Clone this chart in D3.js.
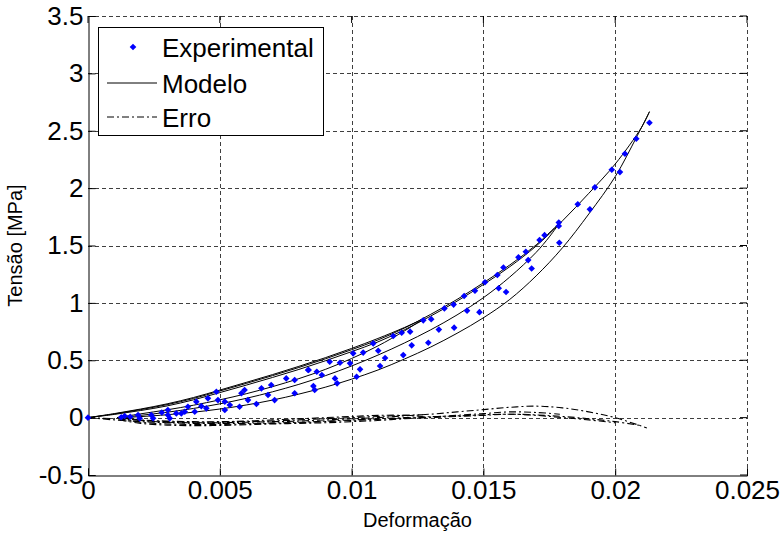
<!DOCTYPE html>
<html>
<head>
<meta charset="utf-8">
<script src="https://cdn.jsdelivr.net/npm/d3@7/dist/d3.min.js"></script>
<style>
body { margin: 0; background: #fff; }
svg { display: block; font-family: "Liberation Sans", Arial, sans-serif; }
</style>
</head>
<body>
<svg id="chart" width="783" height="535"></svg>
<script>
// DATA (strain, stress [MPa])
const xTicks = [0, 0.005, 0.01, 0.015, 0.02, 0.025];
const xTickLabels = ["0", "0.005", "0.01", "0.015", "0.02", "0.025"];
const yTicks = [-0.5, 0, 0.5, 1, 1.5, 2, 2.5, 3, 3.5];
const yTickLabels = ["-0.5", "0", "0.5", "1", "1.5", "2", "2.5", "3", "3.5"];
const legendLabels = ["Experimental", "Modelo", "Erro"];

const experimental = [
    [0, 0], [0.00126, 0.003], [0.00139, 0.014], [0.0016, 0.008], [0.0019, 0.023], [0.00196, -0.006],
    [0.0024, 0.023], [0.00247, -0.006], [0.0028, 0.045], [0.00303, 0.066], [0.00303, 0.023], [0.0031, -0.006],
    [0.00335, 0.037], [0.00354, 0.037], [0.00367, 0.051], [0.00379, 0.095], [0.00405, 0.051], [0.00411, 0.139],
    [0.0043, 0.1], [0.00449, 0.081], [0.00455, 0.168], [0.00487, 0.226], [0.00493, 0.153], [0.00519, 0.066],
    [0.00519, 0.139], [0.00538, 0.11], [0.00575, 0.095], [0.00582, 0.212], [0.00594, 0.241], [0.00607, 0.153],
    [0.00639, 0.119], [0.00658, 0.255], [0.00683, 0.197], [0.00695, 0.284], [0.00708, 0.153], [0.00752, 0.342],
    [0.00784, 0.328], [0.00784, 0.212], [0.00835, 0.415], [0.00837, 0.415], [0.00855, 0.275], [0.0086, 0.241],
    [0.00868, 0.4], [0.00887, 0.371], [0.00917, 0.487], [0.00937, 0.342], [0.00945, 0.299], [0.00956, 0.478],
    [0.00994, 0.473], [0.01006, 0.56], [0.01019, 0.356], [0.01032, 0.421], [0.01044, 0.567], [0.01082, 0.647],
    [0.01101, 0.583], [0.01108, 0.45], [0.01127, 0.52], [0.01158, 0.711], [0.0119, 0.74], [0.01196, 0.545],
    [0.01222, 0.749], [0.01228, 0.63], [0.01272, 0.848], [0.01291, 0.653], [0.01302, 0.858], [0.01331, 0.767],
    [0.01352, 0.952], [0.01387, 0.985], [0.01389, 0.784], [0.01427, 1.06], [0.01438, 0.932], [0.01468, 1.106],
    [0.01485, 0.919], [0.01506, 1.18], [0.01553, 1.243], [0.01558, 1.127], [0.01576, 1.308], [0.01586, 1.095],
    [0.01633, 1.397], [0.01661, 1.446], [0.0167, 1.373], [0.01683, 1.3], [0.01713, 1.548], [0.01732, 1.59],
    [0.01786, 1.7], [0.01786, 1.67], [0.01788, 1.524], [0.01858, 1.859], [0.01904, 1.815], [0.01923, 2.007],
    [0.01987, 2.16], [0.02018, 2.14], [0.02037, 2.3], [0.0208, 2.43], [0.0213, 2.57]
];

// model: loading / unloading branches of three cycles
const loadA = [[0, 0], [0.001, 0.035], [0.002, 0.075], [0.003, 0.12], [0.004, 0.175], [0.005, 0.24], [0.006, 0.307],
    [0.007, 0.375], [0.008, 0.447], [0.009, 0.522], [0.010, 0.603], [0.011, 0.69], [0.012, 0.785], [0.0127, 0.858]];
const unloadA = [[0.0127, 0.858], [0.012, 0.755], [0.011, 0.625], [0.010, 0.515], [0.009, 0.42], [0.008, 0.34],
    [0.007, 0.27], [0.006, 0.208], [0.005, 0.155], [0.004, 0.108], [0.003, 0.068], [0.002, 0.033], [0.0011, 0]];
const loadB = [[0, 0], [0.001, 0.032], [0.002, 0.07], [0.003, 0.113], [0.004, 0.167], [0.005, 0.232], [0.006, 0.298],
    [0.007, 0.366], [0.008, 0.437], [0.009, 0.512], [0.010, 0.592], [0.011, 0.677], [0.012, 0.78], [0.013, 0.9],
    [0.014, 1.03], [0.015, 1.175], [0.016, 1.33], [0.017, 1.505], [0.0179, 1.7]];
const unloadB = [[0.0179, 1.7], [0.0175, 1.575], [0.017, 1.44], [0.016, 1.225], [0.015, 1.045], [0.014, 0.895],
    [0.013, 0.765], [0.012, 0.65], [0.011, 0.545], [0.010, 0.45], [0.009, 0.365], [0.008, 0.29], [0.007, 0.225],
    [0.006, 0.168], [0.005, 0.12], [0.004, 0.08], [0.003, 0.047], [0.002, 0.02], [0.0012, 0]];
const loadC = [[0, 0], [0.001, 0.028], [0.002, 0.062], [0.003, 0.102], [0.004, 0.155], [0.005, 0.218], [0.006, 0.283],
    [0.007, 0.35], [0.008, 0.42], [0.009, 0.495], [0.010, 0.575], [0.011, 0.66], [0.012, 0.765], [0.013, 0.885],
    [0.014, 1.015], [0.015, 1.16], [0.016, 1.315], [0.017, 1.495], [0.018, 1.715], [0.019, 1.955], [0.020, 2.21],
    [0.021, 2.53], [0.0213, 2.666]];
const unloadC = [[0.0213, 2.666], [0.0208, 2.44], [0.020, 2.1], [0.019, 1.775], [0.018, 1.48], [0.017, 1.235],
    [0.016, 1.03], [0.015, 0.87], [0.014, 0.735], [0.013, 0.615], [0.012, 0.51], [0.011, 0.415], [0.010, 0.335],
    [0.009, 0.265], [0.008, 0.205], [0.007, 0.153], [0.006, 0.11], [0.005, 0.075], [0.004, 0.047], [0.003, 0.025],
    [0.002, 0.009], [0.0013, 0]];

// error branches (one per model branch)
const err1 = [[0.0013, 0], [0.002, -0.025], [0.003, -0.04], [0.004, -0.045], [0.005, -0.045], [0.006, -0.04],
    [0.007, -0.035], [0.008, -0.03], [0.009, -0.02], [0.010, -0.01], [0.011, 0], [0.012, 0.015], [0.013, 0.03],
    [0.014, 0.05], [0.015, 0.07], [0.016, 0.09], [0.017, 0.1], [0.018, 0.085], [0.019, 0.05], [0.020, 0], [0.0212, -0.09]];
const err2 = [[0.0012, -0.01], [0.002, -0.04], [0.003, -0.055], [0.004, -0.06], [0.005, -0.06], [0.006, -0.055],
    [0.007, -0.05], [0.008, -0.045], [0.009, -0.035], [0.010, -0.025], [0.011, -0.015], [0.012, -0.005], [0.013, 0.005],
    [0.014, 0.02], [0.015, 0.035], [0.016, 0.05], [0.017, 0.045], [0.0179, 0.03]];
const err3 = [[0.0011, 0], [0.002, -0.02], [0.003, -0.03], [0.004, -0.035], [0.005, -0.035], [0.006, -0.03],
    [0.007, -0.02], [0.008, -0.01], [0.009, 0], [0.010, 0.01], [0.011, 0.02], [0.012, 0.02], [0.0127, 0.01]];
const err4 = [[0, 0], [0.001, -0.02], [0.002, -0.035], [0.004, -0.05], [0.006, -0.05], [0.008, -0.04], [0.010, -0.02],
    [0.012, 0], [0.014, 0.015], [0.016, 0.03], [0.018, 0.01], [0.019, -0.01], [0.020, -0.035], [0.021, -0.07]];
const err5 = [[0.0012, -0.02], [0.002, -0.05], [0.003, -0.065], [0.004, -0.07], [0.005, -0.068], [0.006, -0.062],
    [0.007, -0.055], [0.008, -0.05], [0.009, -0.045], [0.010, -0.035], [0.011, -0.025], [0.012, -0.01], [0.013, 0.0],
    [0.014, 0.01], [0.015, 0.02], [0.016, 0.03], [0.017, 0.02], [0.018, 0.0], [0.019, -0.02], [0.020, -0.045]];
const err6 = [[0, 0], [0.001, -0.01], [0.002, -0.025], [0.003, -0.035], [0.004, -0.04], [0.005, -0.04], [0.006, -0.035],
    [0.007, -0.03], [0.008, -0.02], [0.009, -0.01], [0.010, 0.0], [0.011, 0.01], [0.012, 0.02], [0.0127, 0.025]];

const modelCurves = [loadA, unloadA, loadB, unloadB, loadC, unloadC];
const errorCurves = [err1, err2, err3, err4, err5, err6];

const svg = d3.select('#chart');
const plot = { left: 88, right: 747, top: 16, bottom: 475 };

const x = d3.scaleLinear().domain([0, 0.025]).range([plot.left, plot.right]);
const y = d3.scaleLinear().domain([-0.5, 3.5]).range([plot.bottom, plot.top]);

// GRID (dotted, MATLAB style)
const grid = svg.append('g').attr('stroke', '#000').attr('stroke-width', 1).attr('stroke-dasharray', '4,3').attr('opacity', 0.75);
grid.selectAll('.gx').data(xTicks.slice(1)).join('line')
    .attr('x1', d => Math.round(x(d)) + 0.5).attr('x2', d => Math.round(x(d)) + 0.5)
    .attr('y1', plot.top).attr('y2', plot.bottom);
grid.selectAll('.gy').data(yTicks.slice(1)).join('line')
    .attr('y1', d => Math.round(y(d)) + 0.5).attr('y2', d => Math.round(y(d)) + 0.5)
    .attr('x1', plot.left).attr('x2', plot.right);

// AXES
const xAxis = svg.append('g')
    .attr('transform', `translate(0, ${plot.bottom + 0.5})`)
    .call(d3.axisBottom(x).tickValues(xTicks).tickFormat((d, i) => xTickLabels[i]).tickSize(-7).tickPadding(5));
const yAxis = svg.append('g')
    .attr('transform', `translate(${plot.left + 0.5}, 0)`)
    .call(d3.axisLeft(y).tickValues(yTicks).tickFormat((d, i) => yTickLabels[i]).tickSize(-7).tickPadding(5));
[xAxis, yAxis].forEach(a => {
    a.select('.domain').attr('stroke', '#000');
    a.selectAll('.tick line').attr('stroke', '#000');
    a.selectAll('.tick text').attr('font-size', 26).attr('fill', '#000').attr('font-family', '"Liberation Sans", Arial, sans-serif');
});
// mirrored ticks on top and right
svg.append('g').selectAll('line').data(xTicks).join('line')
    .attr('x1', d => x(d)).attr('x2', d => x(d)).attr('y1', plot.top).attr('y2', plot.top + 7).attr('stroke', '#000');
svg.append('g').selectAll('line').data(yTicks).join('line')
    .attr('y1', d => y(d)).attr('y2', d => y(d)).attr('x1', plot.right).attr('x2', plot.right - 7).attr('stroke', '#000');

// AXIS LABELS
svg.append('text').attr('x', (plot.left + plot.right) / 2).attr('y', 527).attr('text-anchor', 'middle')
    .attr('font-size', 20).text('Deformação');
svg.append('text').attr('transform', `translate(22, ${(plot.top + plot.bottom) / 2}) rotate(-90)`).attr('text-anchor', 'middle')
    .attr('font-size', 20).text('Tensão [MPa]');

const line = d3.line().x(d => x(d[0])).y(d => y(d[1])).curve(d3.curveCatmullRom);

// MODEL CURVES
svg.append('g').selectAll('path').data(modelCurves).join('path')
    .attr('d', line).attr('fill', 'none').attr('stroke', '#000').attr('stroke-width', 1);

// ERROR CURVES
svg.append('g').selectAll('path').data(errorCurves).join('path')
    .attr('d', line).attr('fill', 'none').attr('stroke', '#000').attr('stroke-width', 1.1)
    .attr('stroke-dasharray', '7,3,2,3');

// EXPERIMENTAL POINTS (small square diamonds)
const marker = d3.symbol().type(d3.symbolSquare).size(22);
svg.append('g').selectAll('path').data(experimental).join('path')
    .attr('transform', d => `translate(${x(d[0])}, ${y(d[1])}) rotate(45)`)
    .attr('d', marker).attr('fill', '#0000ff');

// LEGEND
const legend = svg.append('g');
legend.append('rect').attr('x', 98.5).attr('y', 27.5).attr('width', 225).attr('height', 108)
    .attr('fill', '#fff').attr('stroke', '#000');
legend.append('path').attr('transform', 'translate(133, 47) rotate(45)').attr('d', marker).attr('fill', '#0000ff');
legend.append('line').attr('x1', 107).attr('x2', 157).attr('y1', 83).attr('y2', 83).attr('stroke', '#000');
legend.append('line').attr('x1', 107).attr('x2', 157).attr('y1', 117).attr('y2', 117).attr('stroke', '#000')
    .attr('stroke-dasharray', '7,3,2,3');
legend.selectAll('text').data(legendLabels).join('text')
    .attr('x', 162).attr('y', (d, i) => [47, 83, 117][i] + 9.5)
    .attr('font-size', 26).text(d => d);
</script>
</body>
</html>
